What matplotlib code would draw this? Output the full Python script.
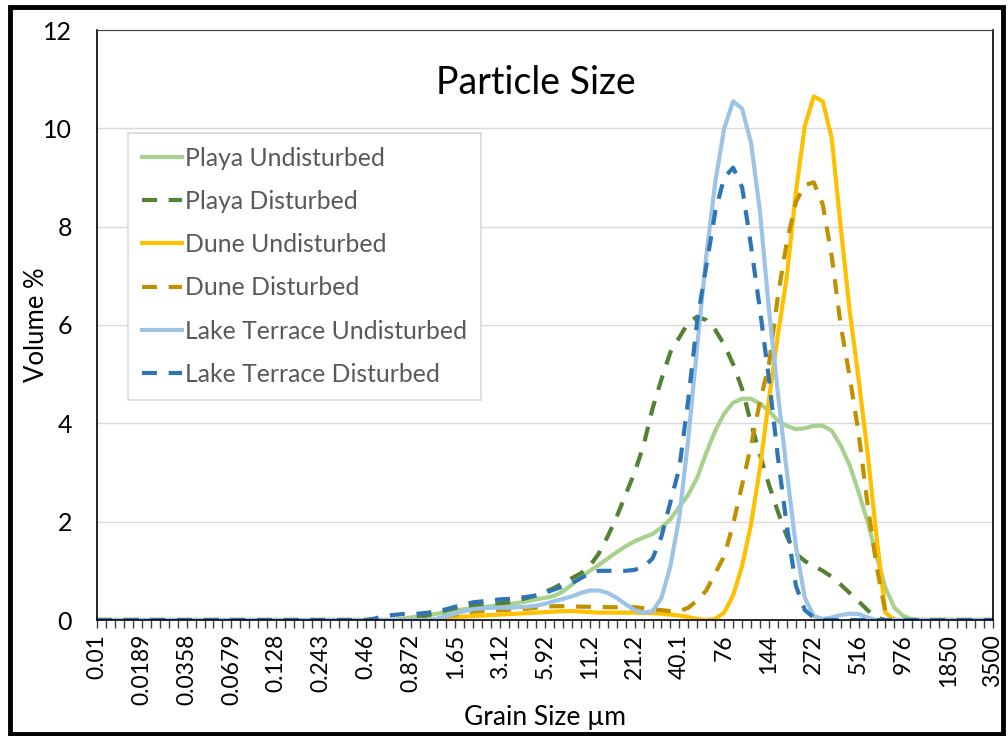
import matplotlib.pyplot as plt
from matplotlib.patches import Rectangle

# Grain size classes (101 log-spaced bins, 0.01 to 3500 µm); every 5th is labelled
size_labels = ['0.01', '0.0189', '0.0358', '0.0679', '0.128', '0.243', '0.46',
               '0.872', '1.65', '3.12', '5.92', '11.2', '21.2', '40.1', '76',
               '144', '272', '516', '976', '1850', '3500']
n_bins = 101

playa_undisturbed = [
    0, 0, 0, 0, 0, 0, 0, 0, 0, 0,
    0, 0, 0, 0, 0, 0, 0, 0, 0, 0,
    0, 0, 0, 0, 0, 0, 0, 0, 0, 0,
    0, 0, 0, 0, 0.02, 0.05, 0.08, 0.1, 0.13, 0.16,
    0.19, 0.22, 0.24, 0.26, 0.28, 0.3, 0.32, 0.35, 0.38, 0.42,
    0.45, 0.49, 0.58, 0.72, 0.87, 1.0, 1.12, 1.25, 1.38, 1.5,
    1.6, 1.68, 1.75, 1.88, 2.05, 2.3, 2.55, 2.9, 3.4, 3.85,
    4.2, 4.42, 4.5, 4.5, 4.4, 4.25, 4.05, 3.95, 3.88, 3.9,
    3.95, 3.95, 3.85, 3.55, 3.15, 2.6, 2.0, 1.3, 0.65, 0.25,
    0.08, 0.01, 0, 0, 0, 0, 0, 0, 0, 0,
    0]

playa_disturbed = [
    0, 0, 0, 0, 0, 0, 0, 0, 0, 0,
    0, 0, 0, 0, 0, 0, 0, 0, 0, 0,
    0, 0, 0, 0, 0, 0, 0, 0, 0, 0,
    0, 0, 0, 0, 0, 0.02, 0.05, 0.1, 0.15, 0.2,
    0.24, 0.28, 0.3, 0.32, 0.33, 0.34, 0.36, 0.4, 0.45, 0.5,
    0.57, 0.65, 0.75, 0.85, 0.95, 1.1, 1.35, 1.7, 2.1, 2.55,
    3.0, 3.55, 4.3, 4.9, 5.45, 5.75, 6.05, 6.17, 6.1, 5.9,
    5.6, 5.2, 4.7, 4.0, 3.35, 2.75, 2.2, 1.7, 1.35, 1.2,
    1.1, 1.0, 0.88, 0.72, 0.55, 0.38, 0.2, 0.05, 0, 0,
    0, 0, 0, 0, 0, 0, 0, 0, 0, 0,
    0]

dune_undisturbed = [
    0, 0, 0, 0, 0, 0, 0, 0, 0, 0,
    0, 0, 0, 0, 0, 0, 0, 0, 0, 0,
    0, 0, 0, 0, 0, 0, 0, 0, 0, 0,
    0, 0, 0, 0, 0, 0, 0, 0, 0.02, 0.04,
    0.06, 0.07, 0.08, 0.09, 0.1, 0.11, 0.12, 0.13, 0.14, 0.15,
    0.16, 0.17, 0.18, 0.18, 0.17, 0.16, 0.15, 0.15, 0.15, 0.15,
    0.15, 0.14, 0.14, 0.13, 0.11, 0.09, 0.06, 0.02, 0.0, 0.02,
    0.15, 0.5, 1.1, 1.95, 3.1, 4.5, 5.8, 7.0, 8.7, 10.05,
    10.65, 10.55, 9.8, 8.0, 6.3, 4.9, 3.4, 1.7, 0.15, 0,
    0, 0, 0, 0, 0, 0, 0, 0, 0, 0,
    0]

dune_disturbed = [
    0, 0, 0, 0, 0, 0, 0, 0, 0, 0,
    0, 0, 0, 0, 0, 0, 0, 0, 0, 0,
    0, 0, 0, 0, 0, 0, 0, 0, 0, 0,
    0, 0, 0, 0, 0, 0, 0, 0, 0.04, 0.08,
    0.11, 0.14, 0.17, 0.18, 0.19, 0.2, 0.21, 0.22, 0.23, 0.25,
    0.27, 0.28, 0.28, 0.28, 0.27, 0.27, 0.27, 0.26, 0.26, 0.26,
    0.26, 0.24, 0.22, 0.2, 0.18, 0.18, 0.25, 0.4, 0.6, 0.95,
    1.3, 1.95, 2.75, 3.55, 4.45, 5.2, 6.6, 7.7, 8.5, 8.85,
    8.9, 8.45, 7.4, 6.0, 4.95, 3.8, 2.35, 1.1, 0.15, 0,
    0, 0, 0, 0, 0, 0, 0, 0, 0, 0,
    0]

lake_undisturbed = [
    0, 0, 0, 0, 0, 0, 0, 0, 0, 0,
    0, 0, 0, 0, 0, 0, 0, 0, 0, 0,
    0, 0, 0, 0, 0, 0, 0, 0, 0, 0,
    0, 0, 0, 0, 0, 0, 0, 0, 0.03, 0.08,
    0.13, 0.18, 0.22, 0.24, 0.25, 0.25, 0.25, 0.26, 0.27, 0.29,
    0.33, 0.38, 0.43, 0.48, 0.55, 0.6, 0.6, 0.55, 0.45, 0.32,
    0.2, 0.15, 0.18, 0.45, 1.1, 2.1, 3.7, 5.6, 7.4, 8.9,
    10.0, 10.55, 10.4, 9.7, 8.3, 6.3, 4.6, 3.0, 1.5, 0.45,
    0.08, 0.02, 0.05, 0.1, 0.13, 0.12, 0.05, 0, 0, 0,
    0, 0, 0, 0, 0, 0, 0, 0, 0, 0,
    0]

lake_disturbed = [
    0, 0, 0, 0, 0, 0, 0, 0, 0, 0,
    0, 0, 0, 0, 0, 0, 0, 0, 0, 0,
    0, 0, 0, 0, 0, 0, 0, 0, 0, 0,
    0, 0.03, 0.08, 0.1, 0.12, 0.12, 0.13, 0.15, 0.18, 0.22,
    0.27, 0.32, 0.36, 0.38, 0.4, 0.42, 0.43, 0.45, 0.47, 0.5,
    0.55, 0.62, 0.68, 0.75, 0.85, 0.95, 1.0, 1.0, 1.0, 1.0,
    1.02, 1.08, 1.25, 1.7, 2.4, 3.1, 4.5, 6.1, 7.2, 8.3,
    9.0, 9.2, 8.8, 7.6, 6.3, 4.9, 3.3, 1.9, 0.7, 0.2,
    0.05, 0, 0, 0, 0, 0, 0, 0, 0, 0,
    0, 0, 0, 0, 0, 0, 0, 0, 0, 0,
    0]

series = [
    ('Playa Undisturbed', playa_undisturbed, '#A9D18E', False),
    ('Playa Disturbed', playa_disturbed, '#548235', True),
    ('Dune Undisturbed', dune_undisturbed, '#FFC000', False),
    ('Dune Disturbed', dune_disturbed, '#BF9000', True),
    ('Lake Terrace Undisturbed', lake_undisturbed, '#9DC3E6', False),
    ('Lake Terrace Disturbed', lake_disturbed, '#2E75B6', True),
]

plt.rcParams['font.family'] = ['Lato', 'DejaVu Sans']

fig = plt.figure(figsize=(10.08, 7.36), dpi=100)
ax = fig.add_axes([97 / 1008, 1 - 620 / 736, (993 - 97) / 1008, 590 / 736])

x = list(range(n_bins))
for name, vals, col, dashed in series:
    line, = ax.plot(x, vals, color=col, lw=3.0, label=name,
                    solid_joinstyle='round', dash_capstyle='butt')
    if dashed:
        line.set_dashes((3.6, 2.8))

ax.set_xlim(0, n_bins - 1)
ax.set_ylim(0, 12)
ax.set_yticks(range(0, 13, 2))
ax.set_xticks(range(0, n_bins, 5))
ax.set_xticklabels(size_labels, rotation=90)
ax.set_xticks(x, minor=True)
ax.tick_params(axis='x', which='both', direction='out', length=6, width=1,
               color='#404040', labelsize=16.5, pad=4)
ax.tick_params(axis='y', length=0, labelsize=18, pad=18)
ax.grid(axis='y', color='#D9D9D9', lw=1)
ax.set_axisbelow(True)
for side in ['left', 'bottom', 'right']:
    ax.spines[side].set_color('black')
    ax.spines[side].set_linewidth(1.2)
ax.spines['top'].set_color('#404040')

ax.set_ylabel('Volume %', fontsize=18.5)
ax.yaxis.set_label_coords((49 - 97) / 896, 0.5)
ax.set_xlabel('Grain Size µm', fontsize=19, labelpad=0)
ax.text(0.49, 0.91, 'Particle Size', transform=ax.transAxes, ha='center',
        va='center', fontsize=27)

leg = ax.legend(loc='upper left', bbox_to_anchor=((128 - 97) / 896, (620 - 133) / 590),
                borderaxespad=0, fontsize=17.8, handlelength=1.65, handletextpad=0.12,
                labelspacing=0.82, borderpad=0.55, fancybox=False, framealpha=1,
                edgecolor='#D9D9D9', labelcolor='#595959')
leg.get_frame().set_linewidth(1.2)

# black frame round the whole picture
fig.patches.append(Rectangle((10 / 1008, 2 / 736), 993 / 1008, 727 / 736,
                             transform=fig.transFigure, fill=False,
                             ec='black', lw=3.5))

fig.savefig('out.png', dpi=100)
